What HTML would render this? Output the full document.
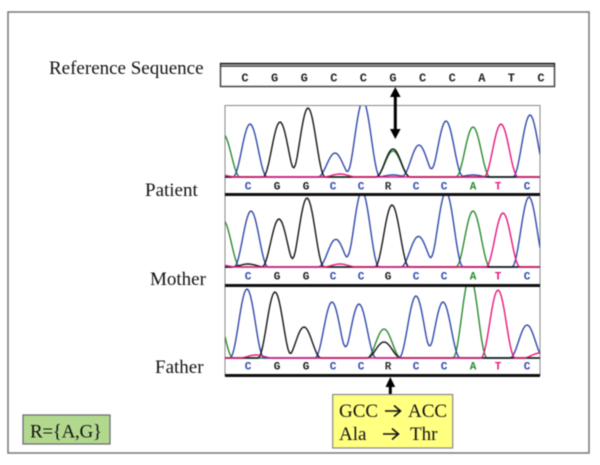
<!DOCTYPE html>
<html>
<head>
<meta charset="utf-8">
<title>Sequence chromatograms</title>
<style>
html,body{margin:0;padding:0;background:#fff;width:600px;height:465px;overflow:hidden}
svg{display:block;filter:blur(0.4px)}
.serif{font-family:"Liberation Serif",serif;font-size:19px;fill:#111}
.base{font-family:"Liberation Mono",monospace;font-size:11px;font-weight:bold;text-anchor:middle}
.refbase{font-size:12px}
</style>
</head>
<body>
<svg id="figure" width="600" height="465" viewBox="0 0 600 465" xmlns="http://www.w3.org/2000/svg">
  <rect x="8" y="12" width="581" height="441" fill="#fff" stroke="#777" stroke-width="1.5"/>
  <text class="serif" x="49" y="74">Reference Sequence</text>
  <text class="serif" x="145" y="196">Patient</text>
  <text class="serif" x="150" y="285">Mother</text>
  <text class="serif" x="155" y="373">Father</text>

  <g>
    <rect x="220.5" y="63.5" width="334" height="23" fill="#fff" stroke="#444" stroke-width="1.5"/>
    <rect x="220" y="63" width="335" height="1.6" fill="#222"/>
    <rect x="220" y="65.4" width="335" height="1.4" fill="#333"/>
  </g>
  <g id="referenceLetters"></g>

  <rect x="225" y="105.5" width="315" height="270" fill="#fff" stroke="#888" stroke-width="1"/>
  <defs>
    <clipPath id="clip-patient"><rect x="225" y="106" width="315" height="88"/></clipPath>
    <clipPath id="clip-mother"><rect x="225" y="196" width="315" height="88"/></clipPath>
    <clipPath id="clip-father"><rect x="225" y="287" width="315" height="87"/></clipPath>
  </defs>
  <g id="traces"></g>
  <rect x="225" y="193" width="315" height="3" fill="#111"/>
  <rect x="225" y="284" width="315" height="3" fill="#111"/>
  <rect x="225" y="374" width="315" height="3" fill="#111"/>

  <g fill="#000">
    <rect x="393.8" y="95" width="3" height="36"/>
    <polygon points="395.3,87 390,97 400.6,97"/>
    <polygon points="395.3,139 390,129 400.6,129"/>
  </g>
  <g fill="#000">
    <rect x="388.8" y="384" width="3" height="11"/>
    <polygon points="390.3,377 385.5,387 395.2,387"/>
  </g>

  <rect x="332.7" y="394.5" width="120" height="53.5" fill="#ffff80" stroke="#888" stroke-width="1.2"/>
  <text class="serif" x="339" y="417">GCC</text>
  <text class="serif" x="408" y="417">ACC</text>
  <text class="serif" x="339" y="440">Ala</text>
  <text class="serif" x="410" y="440">Thr</text>
  <g fill="none" stroke="#111" stroke-width="1.6">
    <path d="M385 411H400M394 405.5L400.5 411L394 416.5"/>
  </g>
  <g fill="none" stroke="#111" stroke-width="1.6">
    <path d="M383 434H398M392 428.5L398.5 434L392 439.5"/>
  </g>

  <rect x="23" y="415" width="87" height="29" fill="#b2d88e" stroke="#667" stroke-width="1.2"/>
  <text class="serif" x="30" y="437.5" textLength="72">R={A,G}</text>
</svg>

<script>
// Base calls
const referenceBases = ["C","G","G","C","C","G","C","C","A","T","C"];
const patientBases = ["C","G","G","C","C","R","C","C","A","T","C"];
const motherBases = ["C","G","G","C","C","G","C","C","A","T","C"];
const fatherBases = ["C","G","G","C","C","R","C","C","A","T","C"];

// Scan positions and peak heights, per channel
const patientCScans = [25,110,138,194,221,305,168,248];
const patientCHeights = [53,24,76,32,56,62,2,2];
const patientGScans = [55,83,168];
const patientGHeights = [55,69,28];
const patientAScans = [-2,168,248];
const patientAHeights = [43,26,50];
const patientTScans = [276,115,-5];
const patientTHeights = [53,3,2];

const motherCScans = [26,111,137,193,221,304,105,205];
const motherCHeights = [56,27,76,30,75,70,1,3];
const motherGScans = [54,82,167,23];
const motherGHeights = [48,69,62,3];
const motherAScans = [-2,248];
const motherAHeights = [47,56];
const motherTScans = [278,115,-5];
const motherTHeights = [54,3,2];

const fatherCScans = [22,107,134,191,218,302];
const fatherCHeights = [69,56,54,62,56,33];
const fatherGScans = [50,79,159];
const fatherGHeights = [66,31,16];
const fatherAScans = [-9,159,245];
const fatherAHeights = [47,29,82];
const fatherTScans = [273,31,315];
const fatherTHeights = [68,3,5];

// Colours by channel
const channelColors = {C:"#2f48ab",G:"#151515",A:"#2a8a30",T:"#e6177c",R:"#333333"};
const SVG_NS = "http://www.w3.org/2000/svg";
const plotLeft = 225;
const plotWidth = 315;
const peakHalfBase = 17;

function xScale(scan){ return plotLeft + scan; }
function yScale(height, baseline){ return baseline - height; }
function signal(scan, scans, heights){
  let total = 0;
  for (let i = 0; i < scans.length; i++) {
    const d = Math.abs(scan - scans[i]) / peakHalfBase;
    if (d < 1) total += heights[i] * 0.5 * (1 + Math.cos(Math.PI * d));
  }
  return total;
}

function drawTrace(parent, scans, heights, color, baseline){
  let d = "";
  for (let s = 0; s <= plotWidth; s += 1.5) {
    const px = xScale(s);
    const py = yScale(signal(s, scans, heights), baseline);
    d += (s === 0 ? "M" : "L") + px.toFixed(1) + " " + py.toFixed(1);
  }
  const path = document.createElementNS(SVG_NS, "path");
  path.setAttribute("d", d);
  path.setAttribute("fill", "none");
  path.setAttribute("stroke", color);
  path.setAttribute("stroke-width", "1.4");
  
  
  parent.appendChild(path);
}

const letterOffsets = [23,52,81,108,136,163,191,219,248,273,302];

function drawLetters(parent, bases, y){
  bases.forEach(function(b, i){
    const t = document.createElementNS(SVG_NS, "text");
    t.setAttribute("class", "base");
    t.setAttribute("x", xScale(letterOffsets[i]));
    t.setAttribute("y", y);
    t.setAttribute("fill", channelColors[b]);
    
    
    t.textContent = b;
    parent.appendChild(t);
  });
}

function drawPanel(name, baseline, labelY, bases, a, c, g, t){
  const root = document.getElementById("traces");
  const group = document.createElementNS(SVG_NS, "g");
  group.setAttribute("clip-path", "url(#clip-" + name + ")");
  
  
  root.appendChild(group);
  drawTrace(group, a[0], a[1], channelColors.A, baseline);
  drawTrace(group, c[0], c[1], channelColors.C, baseline);
  drawTrace(group, g[0], g[1], channelColors.G, baseline);
  drawTrace(group, t[0], t[1], channelColors.T, baseline);
  drawLetters(root, bases, labelY);
}

drawPanel("patient", 177, 189.5, patientBases,
  [patientAScans, patientAHeights], [patientCScans, patientCHeights],
  [patientGScans, patientGHeights], [patientTScans, patientTHeights]);
drawPanel("mother", 267, 279.5, motherBases,
  [motherAScans, motherAHeights], [motherCScans, motherCHeights],
  [motherGScans, motherGHeights], [motherTScans, motherTHeights]);
drawPanel("father", 358, 369.5, fatherBases,
  [fatherAScans, fatherAHeights], [fatherCScans, fatherCHeights],
  [fatherGScans, fatherGHeights], [fatherTScans, fatherTHeights]);

// Reference sequence letters sit on a slightly wider spacing than the panels
const referenceStep = 29.6;
const referenceGroup = document.getElementById("referenceLetters");
referenceBases.forEach(function(b, i){
  const t = document.createElementNS(SVG_NS, "text");
  t.setAttribute("class", "base refbase");
  t.setAttribute("x", 245 + i * referenceStep);
  t.setAttribute("y", 81.5);
  t.setAttribute("fill", "#222");
  
  
  t.textContent = b;
  referenceGroup.appendChild(t);
});
</script>
</body>
</html>
